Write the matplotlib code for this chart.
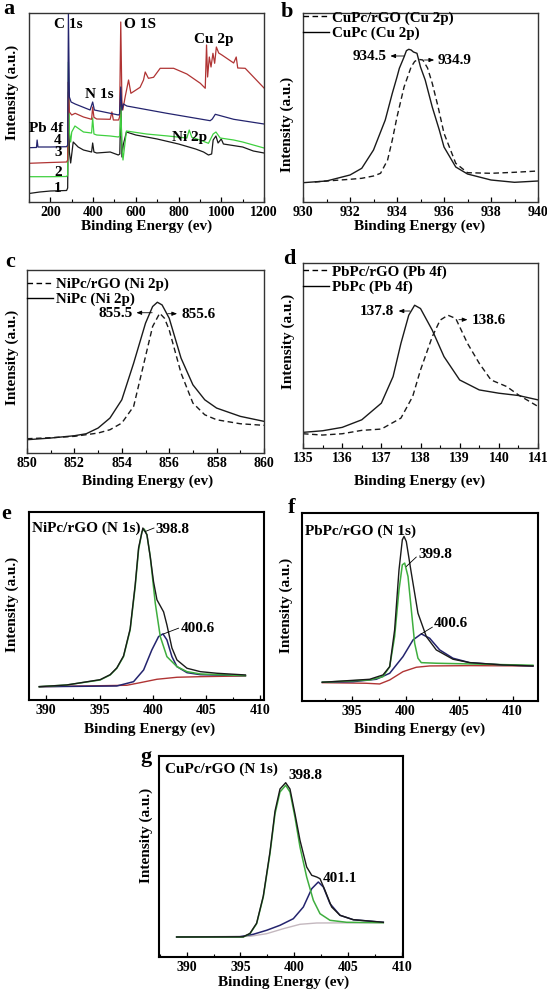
import matplotlib
matplotlib.use("Agg")
import matplotlib.pyplot as plt
from matplotlib.lines import Line2D
from matplotlib.ticker import MultipleLocator

plt.rcParams['font.family'] = ['Liberation Serif', 'DejaVu Serif']
plt.rcParams['font.weight'] = 'bold'

W, H = 547, 992

# ---------------- data: panel a (survey) ----------------
a_x1 = [100, 150, 200, 276, 281, 284.5, 289, 295, 307, 330, 355, 393, 398, 404, 417, 480, 518, 525, 530, 535, 541, 556, 600, 700, 800, 880, 917, 940, 955, 962, 975, 985, 1000, 1010, 1100, 1150, 1200]
a_y1 = [8.5, 10, 11, 11.5, 14, 110, 50, 39, 60, 55, 52, 50, 59, 50, 49, 50, 47, 48, 100, 45, 57, 70, 67, 63, 58, 53, 50, 47, 48, 62, 66, 59, 63, 58, 55, 51, 49]
a_x2 = [100, 200, 276, 281, 284.5, 289, 295, 300, 315, 355, 393, 398, 404, 417, 480, 518, 525, 530, 535, 540, 556, 650, 750, 839, 850, 862, 900, 940, 962, 975, 995, 1058, 1100, 1200]
a_y2 = [25.3, 25.3, 25.5, 27, 140, 70, 60, 70, 76, 70, 69, 84, 68, 67, 66, 65, 66, 95, 55, 42, 71, 68, 66, 64, 72, 64.7, 62, 58.7, 68, 70, 64, 62, 60, 54]
a_x3 = [100, 200, 276, 281, 284.5, 289, 300, 316, 355, 393, 398, 404, 417, 480, 488, 495, 519, 524, 529.5, 535, 539, 550, 566, 577, 620, 636, 644, 659, 683, 714, 777, 839, 902, 925, 931, 936, 944, 952, 961, 969, 977, 988, 1003, 1058, 1070, 1077, 1112, 1200]
a_y3 = [38.7, 39.5, 40, 42, 120, 90, 87, 88.7, 85, 82.7, 95, 84.7, 83, 82.7, 90, 82, 82, 85, 180, 100, 92, 105, 122, 108.7, 114.7, 122, 130, 123.7, 124.7, 133.7, 133.7, 128, 118.7, 113.7, 157, 125, 145, 135, 148.7, 138.7, 155, 149, 147, 139, 145, 134, 133.7, 114]
a_x4 = [100, 130, 135, 138, 142, 200, 276, 281, 284.5, 289, 297, 316, 386, 398, 406, 519, 524, 529.5, 535, 542, 558, 745, 948, 958, 972, 1058, 1200]
a_y4 = [54.3, 54.5, 54.5, 62, 55, 55, 55.3, 57, 188, 105, 100, 98, 92, 100, 92, 87, 88, 115, 92, 98, 96, 88.7, 81.3, 83, 87.7, 82.7, 78]
a_ticks = [200, 400, 600, 800, 1000, 1200]

# ---------------- panel b (Cu 2p) ----------------
b_solid_x = [930, 931, 932, 932.5, 933, 933.5, 933.8, 934, 934.1, 934.3, 934.4, 934.5, 934.6, 934.7, 934.85, 935, 935.2, 935.5, 935.8, 936, 936.5, 937, 938, 939, 940]
b_solid_y = [19.3, 21, 27, 33.7, 52, 82, 108.7, 125, 133.7, 145, 151.3, 152.7, 152, 150, 148.7, 135, 122, 95, 72, 55, 35, 28, 22, 19.7, 21]
b_dash_x = [930.5, 931, 932, 932.5, 933, 933.3, 933.6, 933.8, 934, 934.3, 934.6, 934.75, 934.9, 935.1, 935.3, 935.5, 935.75, 936, 936.5, 937, 938, 939, 940]
b_dash_y = [20, 21, 22.7, 23.7, 26, 28.7, 42, 62, 85, 115, 135, 140.5, 142.7, 142, 134, 118.7, 95, 68.7, 38.7, 29.3, 28.7, 29.7, 31]
b_ticks = [930, 932, 934, 936, 938, 940]

# ---------------- panel c (Ni 2p) ----------------
c_solid_x = [850, 851, 852, 852.5, 853, 853.5, 854, 854.5, 855, 855.3, 855.5, 855.7, 856, 856.5, 857, 857.5, 858, 859, 860]
c_solid_y = [13.3, 15, 17.3, 19.3, 25, 35, 53.3, 90, 130, 146.7, 151, 148.3, 135, 95, 68.3, 53.3, 45, 36.7, 31.7]
c_dash_x = [850, 851, 852, 853, 853.5, 854, 854.5, 855, 855.3, 855.6, 855.8, 856, 856.5, 857, 857.5, 858, 859, 860]
c_dash_y = [14.3, 15.3, 16.7, 20, 23.3, 30, 46.7, 96.7, 126.7, 140, 135, 123.3, 80, 50, 38.3, 33.3, 29.3, 27.7]
c_ticks = [850, 852, 854, 856, 858, 860]

# ---------------- panel d (Pb 4f) ----------------
d_solid_x = [135, 135.5, 136, 136.5, 137, 137.3, 137.5, 137.7, 137.85, 138, 138.3, 138.6, 139, 139.5, 140, 140.5, 141]
d_solid_y = [15.7, 17.3, 20.7, 28.3, 45, 71.7, 105, 133.3, 143.3, 140, 118.3, 91.7, 68.3, 58.3, 55, 52.7, 48.3]
d_dash_x = [135, 135.5, 136, 136.5, 137, 137.5, 137.8, 138, 138.3, 138.5, 138.7, 138.9, 139.2, 139.5, 139.8, 140.2, 140.5, 141]
d_dash_y = [14.3, 13, 14.3, 17.7, 19, 30, 51.7, 78.3, 111.7, 128.3, 133.3, 130, 105, 85, 68.3, 61.7, 53.3, 41.7]
d_ticks = [135, 136, 137, 138, 139, 140, 141]

# ---------------- panel e (NiPc/rGO N 1s) ----------------
e_env_x = [389.37, 391.93, 395.06, 396.0, 396.62, 397.25, 397.87, 398.34, 398.66, 399.06, 399.44, 399.75, 400.06, 400.38, 400.69, 401.0, 401.31, 401.78, 402.25, 403.19, 404.44, 406.0, 408.66]
e_env_y = [13.3, 15, 20.3, 25.3, 32, 44, 71, 115, 152, 171.7, 165, 143, 118, 100, 94, 88, 75, 52, 40, 31.7, 28.3, 26.7, 25]
e_p1_x = [389.37, 391.93, 395.06, 396.0, 396.62, 397.25, 397.87, 398.34, 398.66, 398.97, 399.19, 399.44, 399.75, 400.22, 400.69, 401.31, 402.25, 403.19, 404.44, 408.66]
e_p1_y = [13.3, 15, 20, 25, 31.7, 43.3, 70, 113, 150, 168, 170.7, 165, 143.3, 96.7, 63.3, 43.3, 33.3, 28.3, 26, 24.3]
e_p2_x = [389.37, 396.62, 398.19, 399.13, 399.9, 400.53, 400.94, 401.31, 401.78, 402.25, 403.19, 404.44, 408.66]
e_p2_y = [13.3, 14, 18.3, 30, 50, 63.3, 66, 60, 43.3, 33.3, 27.3, 25.3, 24.3]
e_bg_x = [389.37, 397.56, 398.81, 400.38, 402.25, 404.44, 408.66]
e_bg_y = [13.3, 14.7, 17.3, 20.7, 22.7, 23.3, 24]

# ---------------- panel f (PbPc/rGO N 1s) ----------------
f_env_x = [392.23, 396.65, 397.89, 398.52, 398.98, 399.39, 399.70, 399.86, 400.07, 400.54, 401.16, 401.94, 402.87, 404.43, 405.99, 409.1, 411.9]
f_env_y = [18.7, 21.7, 26, 34.3, 71, 131, 161, 164.3, 159.3, 127.7, 87.7, 64.3, 51, 41.7, 38.3, 36, 35]
f_p1_x = [392.23, 396.65, 397.89, 398.52, 398.98, 399.39, 399.70, 399.92, 400.23, 400.54, 400.85, 401.16, 401.47, 402.87, 411.9]
f_p1_y = [18.7, 21, 24.3, 34.3, 64.3, 111, 136, 137.7, 124.3, 91, 57.7, 42.7, 38.3, 37.7, 35.7]
f_p2_x = [392.23, 395.09, 397.27, 398.52, 399.76, 400.70, 401.47, 402.25, 403.19, 404.43, 405.99, 409.1, 411.9]
f_p2_y = [18.7, 19.3, 21.7, 27.7, 44.3, 61, 67, 62.7, 51, 42.7, 38.3, 36, 35]
f_bg_x = [392.23, 396.34, 397.58, 398.52, 399.76, 401.01, 402.25, 405.99, 411.9]
f_bg_y = [18.3, 17.7, 17, 21, 29.3, 33.7, 35, 35.3, 35]

# ---------------- panel g (CuPc/rGO N 1s) ----------------
g_env_x = [389.07, 395.26, 395.88, 396.5, 397.12, 397.74, 398.21, 398.67, 399.2, 399.6, 400.06, 400.53, 401.15, 401.62, 402.08, 402.39, 402.85, 403.47, 404.25, 405.48, 408.27]
g_env_y = [20, 20.2, 23.6, 33.8, 61, 105, 146, 168, 174.3, 168, 143.3, 116.7, 90, 81.7, 80, 78.3, 66.7, 50, 41.7, 37.3, 34.7]
g_p1_x = [389.07, 395.26, 395.88, 396.5, 397.12, 397.74, 398.21, 398.67, 399.2, 399.6, 400.06, 400.53, 401.15, 401.77, 402.39, 403.32, 404.87, 408.27]
g_p1_y = [20, 20, 23.3, 33.3, 60, 103.3, 143.3, 165, 171.7, 165, 140, 110, 80, 56.7, 43.3, 36.7, 34.7, 34.3]
g_p2_x = [389.07, 394.95, 396.19, 397.43, 398.67, 399.91, 400.84, 401.62, 402.23, 402.7, 403.32, 404.25, 405.48, 408.27]
g_p2_y = [20, 20.3, 22.7, 26.7, 31.7, 38.3, 50, 68.3, 75, 70, 53.3, 41.7, 37.3, 34.7]
g_bg_x = [389.07, 395.88, 397.43, 398.98, 400.53, 402.08, 408.27]
g_bg_y = [20, 20.7, 23.3, 28.3, 32.7, 34, 34.3]
n_ticks = [390, 395, 400, 405, 410]

fig = plt.figure(figsize=(W / 100, H / 100), dpi=100)


def add_ax(l, r, t, b):
    return fig.add_axes([l / W, 1 - b / H, (r - l) / W, (b - t) / H])


def ftext(x, y, s, **kw):
    fig.text(x / W, 1 - y / H, s, **kw)


def style(ax, xlim, ylim, ticks, minor, lw=1.0, fc='#333333'):
    ax.set_xlim(*xlim)
    ax.set_ylim(*ylim)
    ax.set_xticks(ticks)
    ax.xaxis.set_minor_locator(MultipleLocator(minor))
    ax.set_yticks([])
    ax.tick_params(axis='x', which='major', direction='in', length=3.5, width=0.9,
                   labelsize=10, pad=3)
    ax.tick_params(axis='x', which='minor', direction='in', length=2, width=0.8)
    for lab in ax.get_xticklabels():
        lab.set_fontweight('bold')
    for sp in ax.spines.values():
        sp.set_linewidth(lw)
        sp.set_color(fc)


BLK = '#1a1a1a'
GRN_A = '#3fd03f'
RED = '#b03434'
NAVY = '#24246e'
GRN = '#3fae3f'
ARW = dict(arrowstyle='-|>,head_length=0.3,head_width=0.12', lw=0.6, color='k')
TK = dict(fontsize=11, fontweight='bold', va='center')

# ---- panel a ----
ax = add_ax(29, 264, 13, 202)
ax.plot(a_x1, a_y1, color=BLK, lw=0.9)
ax.plot(a_x2, a_y2, color=GRN_A, lw=0.9)
ax.plot(a_x3, a_y3, color=RED, lw=0.9)
ax.plot(a_x4, a_y4, color=NAVY, lw=0.9)
style(ax, (100, 1200), (0, 189), a_ticks, 100)
kw = dict(fontsize=11, fontweight='bold', ha='center', va='center')
ftext(68, 25, 'C 1s', **kw)
ftext(140, 25, 'O 1S', **kw)
ftext(214, 40, 'Cu 2p', **kw)
ftext(99, 95, 'N 1s', **kw)
ftext(46, 128, 'Pb 4f', **kw)
ftext(190, 137, 'Ni 2p', **kw)
for lab, yy in zip(['4', '3', '2', '1'], [140, 152, 172, 188]):
    ftext(58, yy, lab, **kw)

# ---- panel b ----
ax = add_ax(303, 538, 13, 202)
ax.plot(b_dash_x, b_dash_y, color=BLK, lw=1.0, ls=(0, (4, 2.5)))
ax.plot(b_solid_x, b_solid_y, color=BLK, lw=1.0)
style(ax, (930, 940), (0, 189), b_ticks, 1)
ax.text(933.55, 145, '934.5', ha='right', **TK)
ax.annotate('', xy=(933.6, 146), xytext=(934.42, 146), arrowprops=ARW)
ax.text(935.75, 141, '934.9', ha='left', **TK)
ax.annotate('', xy=(935.7, 142), xytext=(935.05, 142), arrowprops=ARW)


def legend(ax, labels, y0):
    hs = [Line2D([], [], color='k', lw=1.0, ls=(0, (4, 2.5))), Line2D([], [], color='k', lw=1.0)]
    ax.legend(hs, labels, loc='upper left', bbox_to_anchor=(0.0, y0), frameon=False,
              borderaxespad=0, borderpad=0, handlelength=1.7, handletextpad=0.2,
              labelspacing=0.12, prop={'size': 10.8, 'weight': 'bold'})


legend(ax, ['CuPc/rGO (Cu 2p)', 'CuPc (Cu 2p)'], 1.01)

# ---- panel c ----
ax = add_ax(27, 264, 270, 453)
ax.plot(c_dash_x, c_dash_y, color=BLK, lw=1.0, ls=(0, (4, 2.5)))
ax.plot(c_solid_x, c_solid_y, color=BLK, lw=1.0)
style(ax, (850, 860), (0, 183.3), c_ticks, 1)
legend(ax, ['NiPc/rGO (Ni 2p)', 'NiPc (Ni 2p)'], 0.96)
ax.text(854.45, 140, '855.5', ha='right', **TK)
ax.annotate('', xy=(854.5, 140.5), xytext=(855.4, 140.5), arrowprops=ARW)
ax.text(856.5, 139, '855.6', ha='left', **TK)
ax.annotate('', xy=(856.45, 139.5), xytext=(855.82, 139.5), arrowprops=ARW)

# ---- panel d ----
ax = add_ax(303, 538, 263, 448)
ax.plot(d_dash_x, d_dash_y, color=BLK, lw=1.0, ls=(0, (4, 2.5)))
ax.plot(d_solid_x, d_solid_y, color=BLK, lw=1.0)
style(ax, (135, 141), (0, 185.7), d_ticks, 0.5)
legend(ax, ['PbPc/rGO (Pb 4f)', 'PbPc (Pb 4f)'], 0.99)
ax.text(137.33, 137, '137.8', ha='right', **TK)
ax.annotate('', xy=(137.37, 137.5), xytext=(137.8, 137.5), arrowprops=ARW)
ax.text(139.3, 128.3, '138.6', ha='left', **TK)
ax.annotate('', xy=(139.27, 128.8), xytext=(138.91, 128.8), arrowprops=ARW)


def npanel(ax, bx, by, p2x, p2y, p1x, p1y, ex, ey, bgcol):
    ax.plot(bx, by, color=bgcol, lw=1.0)
    ax.plot(p2x, p2y, color=NAVY, lw=1.1)
    ax.plot(p1x, p1y, color=GRN, lw=1.1)
    ax.plot(ex, ey, color=BLK, lw=1.0)


# ---- panel e ----
ax = add_ax(29, 264, 512, 700)
npanel(ax, e_bg_x, e_bg_y, e_p2_x, e_p2_y, e_p1_x, e_p1_y, e_env_x, e_env_y, RED)
style(ax, (388.4, 410.4), (0, 187.7), n_ticks, 2.5, lw=1.5, fc='k')
ax.text(388.68, 171.7, 'NiPc/rGO (N 1s)', ha='left', **TK)
ax.text(400.22, 170, '398.8', ha='left', **TK)
ax.plot([399.3, 400.1], [168.3, 171.7], color='k', lw=0.6)
ax.text(402.56, 71.7, '400.6', ha='left', **TK)
ax.plot([401.0, 402.4], [66, 71.7], color='k', lw=0.6)

# ---- panel f ----
ax = add_ax(302, 538, 513, 701)
npanel(ax, f_bg_x, f_bg_y, f_p2_x, f_p2_y, f_p1_x, f_p1_y, f_env_x, f_env_y, RED)
style(ax, (390.33, 412.37), (0, 187.7), [395, 400, 405, 410], 2.5, lw=1.5, fc='k')
ax.text(390.58, 169.3, 'PbPc/rGO (N 1s)', ha='left', **TK)
ax.text(401.16, 146, '399.8', ha='left', **TK)
ax.plot([400.07, 401.0], [134.3, 143.7], color='k', lw=0.6)
ax.text(402.63, 77.7, '400.6', ha='left', **TK)
ax.plot([401.47, 402.5], [67, 73.7], color='k', lw=0.6)

# ---- panel g ----
ax = add_ax(159, 403, 756, 957)
npanel(ax, g_bg_x, g_bg_y, g_p2_x, g_p2_y, g_p1_x, g_p1_y, g_env_x, g_env_y, '#c4b8bf')
style(ax, (387.43, 410.1), (0, 201), n_ticks, 2.5, lw=1.5, fc='k')
ax.text(387.98, 187.3, 'CuPc/rGO (N 1s)', ha='left', **TK)
ax.text(399.44, 181.7, '398.8', ha='left', **TK)
ax.text(402.64, 78.3, '401.1', ha='left', **TK)

# ---- axis labels and panel letters ----
lk = dict(fontsize=11, fontweight='bold', ha='center', va='center')
for (x, y) in [(147, 226), (420, 226), (148, 481), (420, 481), (150, 729), (420, 729), (284, 982)]:
    ftext(x, y, 'Binding Energy (ev)', **lk)
for (x, y) in [(12, 92), (287, 124), (12, 357), (288, 341), (12, 604), (286, 605), (146, 835)]:
    ftext(x, y, 'Intensity (a.u.)', rotation=90, **lk)
pk = dict(fontsize=16, fontweight='bold', ha='center', va='center')
for (x, y, s) in [(9, 9, 'a'), (287, 12, 'b'), (10, 262, 'c'), (289, 259, 'd'),
                  (6, 514, 'e'), (292, 508, 'f'), (146, 757, 'g')]:
    ftext(x, y, s, **pk)

fig.savefig('out.png', dpi=100)
